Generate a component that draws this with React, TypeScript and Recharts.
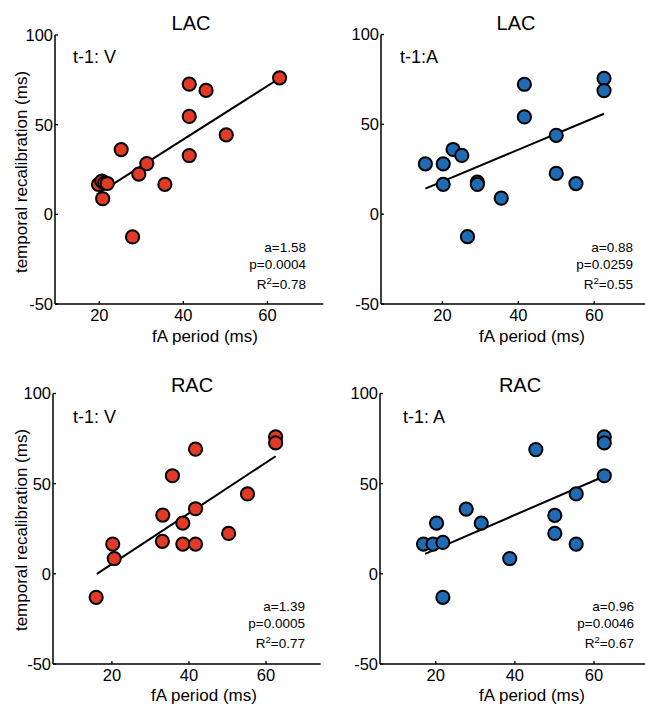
import React from "react";
import { Scatter, ScatterChart, XAxis, YAxis } from "recharts";

const FONT = '"Liberation Sans", Arial, Helvetica, sans-serif';
const RED = "#e23a26";
const BLUE = "#1f6cb5";

const xTicks = [20, 40, 60];
const yTicks = [-50, 0, 50, 100];

// LAC, t-1: V
const lacVX = [19.8, 20.6, 21.3, 21.9, 20.8, 25.2, 27.9, 29.4, 31.3, 35.6, 41.4, 41.4, 41.4, 45.4, 50.2, 62.9];
const lacVY = [16.7, 18.5, 17.6, 17.2, 8.7, 36.1, -12.6, 22.4, 28.3, 16.7, 72.6, 54.6, 32.8, 69.1, 44.3, 76.1];
const lacVFitX = [19.4, 62.9];
const lacVFitY = [11.1, 75.9];

// LAC, t-1: A
const lacAX = [15.5, 20.2, 20.2, 22.8, 25.1, 26.6, 29.2, 29.2, 35.5, 41.6, 41.6, 50, 50, 55.2, 62.6, 62.6];
const lacAY = [28, 28, 16.6, 36, 32.7, -12.5, 17.9, 16.6, 8.9, 72.3, 54.1, 43.9, 22.7, 17, 75.6, 68.8];
const lacAFitX = [15.5, 62.6];
const lacAFitY = [14.2, 55.9];

// RAC, t-1: V
const racVX = [15.9, 20.2, 20.6, 33.1, 33.2, 35.7, 38.4, 38.4, 41.7, 41.7, 41.7, 50.3, 55.2, 62.5, 62.5];
const racVY = [-13, 16.5, 8.5, 18, 32.6, 54.4, 28.1, 16.5, 16.5, 36.1, 69.1, 22.4, 44.3, 75.9, 72.6];
const racVFitX = [16.1, 62.5];
const racVFitY = [0, 65.2];

// RAC, t-1: A
const racAX = [16.9, 19.3, 21.8, 20.2, 21.8, 27.7, 31.5, 38.7, 45.3, 50.1, 50.1, 55.5, 55.5, 62.6, 62.6, 62.6];
const racAY = [16.5, 16.5, 17.4, 28.1, -13, 35.9, 28.1, 8.5, 68.9, 32.4, 22.4, 44.3, 16.5, 75.9, 72.6, 54.4];
const racAFitX = [17.3, 62.6];
const racAFitY = [11.1, 54.1];

const toPoints = (xs: number[], ys: number[]) => xs.map((x, i) => ({ x, y: ys[i] }));

function XTick({ x, y, payload }: any) {
  return (
    <g>
      <line x1={x} x2={x} y1={y} y2={y - 3} stroke="#000" strokeWidth={1.3} />
      <text x={x} y={y + 17} textAnchor="middle" fontSize={16.5} fontFamily={FONT} fill="#000">
        {payload.value}
      </text>
    </g>
  );
}

function YTick({ x, y, payload }: any) {
  return (
    <g>
      <line x1={x} x2={x + 3} y1={y} y2={y} stroke="#000" strokeWidth={1.3} />
      <text x={x - 2} y={y} dy="0.36em" textAnchor="end" fontSize={16.5} fontFamily={FONT} fill="#000">
        {payload.value}
      </text>
    </g>
  );
}

interface PanelProps {
  left: number;
  top: number;
  width: number;
  height: number;
  yAxisWidth: number;
  marginTop: number;
  marginRight: number;
  xAxisHeight: number;
  xDomain: [number, number];
  points: { x: number; y: number }[];
  fit: { x: number; y: number }[];
  color: string;
}

function Panel(p: PanelProps) {
  const dot = (props: any) => (
    <circle cx={props.cx} cy={props.cy} r={6.6} fill={p.color} stroke="#000" strokeWidth={2} />
  );
  return (
    <div style={{ position: "absolute", left: p.left, top: p.top }}>
      <ScatterChart
        width={p.width}
        height={p.height}
        margin={{ top: p.marginTop, right: p.marginRight, bottom: 0, left: 0 }}
      >
        <XAxis
          type="number"
          dataKey="x"
          domain={p.xDomain}
          ticks={xTicks}
          allowDataOverflow
          height={p.xAxisHeight}
          tickSize={0}
          tickMargin={0}
          tickLine={false}
          axisLine={{ stroke: "#000", strokeWidth: 1.5 }}
          tick={<XTick />}
        />
        <YAxis
          type="number"
          dataKey="y"
          domain={[-50, 100]}
          ticks={yTicks}
          allowDataOverflow
          width={p.yAxisWidth}
          tickSize={0}
          tickMargin={0}
          tickLine={false}
          axisLine={{ stroke: "#000", strokeWidth: 1.5 }}
          tick={<YTick />}
        />
        <Scatter
          data={p.fit}
          line={{ stroke: "#000", strokeWidth: 2 }}
          shape={() => <g />}
          isAnimationActive={false}
        />
        <Scatter data={p.points} shape={dot} isAnimationActive={false} />
      </ScatterChart>
    </div>
  );
}

function Txt({ x, y, size, rotate, children }: any) {
  return (
    <div
      style={{
        position: "absolute",
        left: x,
        top: y,
        transform: `translate(-50%, -50%)${rotate ? " rotate(-90deg)" : ""}`,
        fontSize: size,
        fontFamily: FONT,
        lineHeight: 1,
        whiteSpace: "nowrap",
        color: "#000",
      }}
    >
      {children}
    </div>
  );
}

function Tag({ x, y, children }: any) {
  return (
    <div
      style={{
        position: "absolute",
        left: x,
        top: y,
        transform: "translateY(-50%)",
        fontSize: 18,
        fontFamily: FONT,
        lineHeight: 1,
        whiteSpace: "nowrap",
      }}
    >
      {children}
    </div>
  );
}

function Stats({ right, top, a, p, r2 }: any) {
  return (
    <div
      style={{
        position: "absolute",
        left: right,
        top,
        transform: "translateX(-100%)",
        fontSize: 13.5,
        fontFamily: FONT,
        lineHeight: "16.5px",
        textAlign: "right",
        whiteSpace: "nowrap",
      }}
    >
      <div>a={a}</div>
      <div>p={p}</div>
      <div>
        R<span style={{ fontSize: 9.5, verticalAlign: "5px" }}>2</span>={r2}
      </div>
    </div>
  );
}

export default function App() {
  return (
    <div
      style={{
        position: "absolute",
        left: 0,
        top: 0,
        width: 645,
        height: 705,
        overflow: "hidden",
        background: "#fff",
      }}
    >
      <Panel
        left={0}
        top={0}
        width={330}
        height={350}
        yAxisWidth={55}
        marginTop={35}
        marginRight={6.7}
        xAxisHeight={46}
        xDomain={[9.45, 73.3]}
        points={toPoints(lacVX, lacVY)}
        fit={toPoints(lacVFitX, lacVFitY)}
        color={RED}
      />
      <Panel
        left={330}
        top={0}
        width={315}
        height={350}
        yAxisWidth={51}
        marginTop={34.5}
        marginRight={0}
        xAxisHeight={46}
        xDomain={[3.8, 73.4]}
        points={toPoints(lacAX, lacAY)}
        fit={toPoints(lacAFitX, lacAFitY)}
        color={BLUE}
      />
      <Panel
        left={0}
        top={350}
        width={330}
        height={355}
        yAxisWidth={53}
        marginTop={43.5}
        marginRight={9.3}
        xAxisHeight={41}
        xDomain={[4.7, 74.2]}
        points={toPoints(racVX, racVY)}
        fit={toPoints(racVFitX, racVFitY)}
        color={RED}
      />
      <Panel
        left={330}
        top={350}
        width={315}
        height={355}
        yAxisWidth={50}
        marginTop={43.5}
        marginRight={0}
        xAxisHeight={41}
        xDomain={[5.9, 72.9]}
        points={toPoints(racAX, racAY)}
        fit={toPoints(racAFitX, racAFitY)}
        color={BLUE}
      />

      <Txt x={191} y={23} size={20}>LAC</Txt>
      <Txt x={516} y={23} size={20}>LAC</Txt>
      <Txt x={192} y={385} size={20}>RAC</Txt>
      <Txt x={520} y={385} size={20}>RAC</Txt>

      <Tag x={73} y={57}>t-1: V</Tag>
      <Tag x={400} y={57}>t-1:A</Tag>
      <Tag x={73} y={417}>t-1: V</Tag>
      <Tag x={403} y={417}>t-1: A</Tag>

      <Txt x={21} y={172} size={17} rotate>temporal recalibration (ms)</Txt>
      <Txt x={21} y={530} size={17} rotate>temporal recalibration (ms)</Txt>
      <Txt x={205} y={336} size={17}>fA period (ms)</Txt>
      <Txt x={532} y={336} size={17}>fA period (ms)</Txt>
      <Txt x={204} y={695} size={17}>fA period (ms)</Txt>
      <Txt x={532} y={695} size={17}>fA period (ms)</Txt>

      <Stats right={306} top={240} a="1.58" p="0.0004" r2="0.78" />
      <Stats right={633} top={240} a="0.88" p="0.0259" r2="0.55" />
      <Stats right={305} top={599} a="1.39" p="0.0005" r2="0.77" />
      <Stats right={634} top={599} a="0.96" p="0.0046" r2="0.67" />
    </div>
  );
}
